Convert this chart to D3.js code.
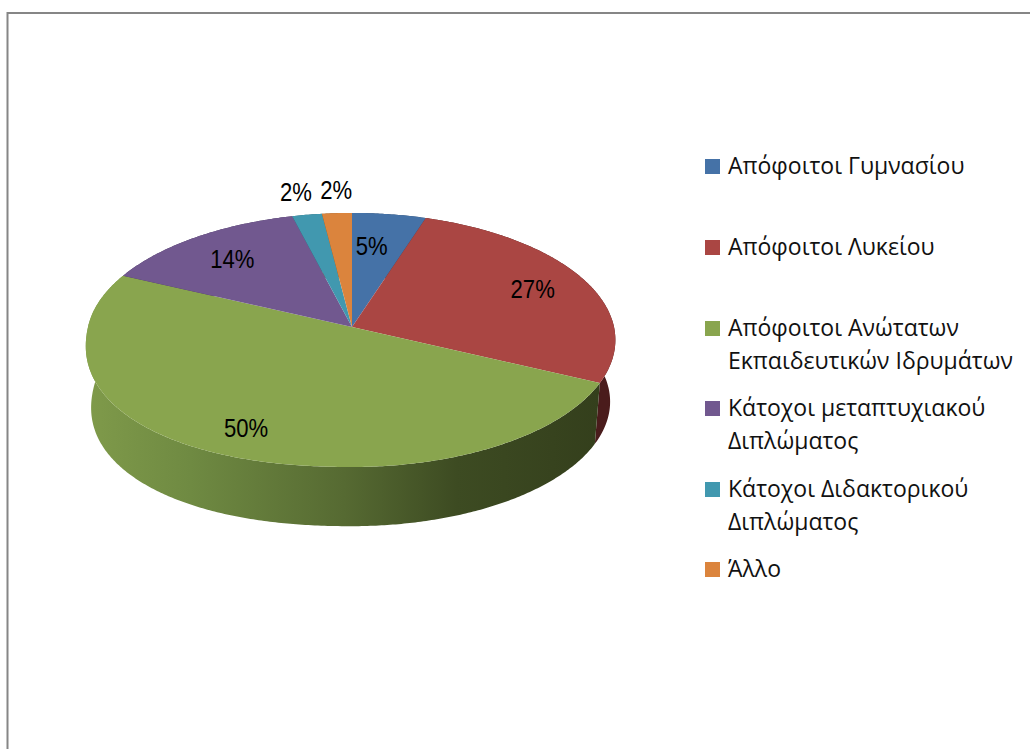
<!DOCTYPE html>
<html lang="el">
<head>
<meta charset="utf-8">
<title>Pie</title>
<style>
  html, body { margin: 0; padding: 0; background: #fff; }
  svg { display: block; }
  .legend text { font-family: "Open Sans", sans-serif; font-size: 23px; fill: #111; }
  .lbl { font-family: "Liberation Sans", sans-serif; font-size: 26px; fill: #000; text-anchor: middle; }
</style>
<script src="https://d3js.org/d3.v7.min.js"></script>
</head>
<body>
<div id="chart"></div>
<script>
// data
var categories = [
  ["Απόφοιτοι Γυμνασίου"],
  ["Απόφοιτοι Λυκείου"],
  ["Απόφοιτοι Ανώτατων", "Εκπαιδευτικών Ιδρυμάτων"],
  ["Κάτοχοι μεταπτυχιακού", "Διπλώματος"],
  ["Κάτοχοι Διδακτορικού", "Διπλώματος"],
  ["Άλλο"]
];
var values = [5, 27, 50, 14, 2, 2];
var colors = ["#4572a7", "#aa4643", "#89a54e", "#71588f", "#4198af", "#db843d"];
var sideColors = ["#2a4464", "#4a1c1c", "url(#greenSide)", "#44355a", "#275c6a", "#83501f"];

// label placement
var labelR = [0.7, 0.7, 0.7, 0.7, 1.2, 1.2];
var labelDx = [-7, 17, -15, -8, -3, 2];
var labelDy = [0, -4, 15, -4, -3, -3];
var legendY = [166, 247, 328, 408, 489, 569];

var width = 1030, height = 749;

// tilted disc with a little perspective, a = clockwise angle from the back
var apexX = 352, apexY = 327, radXLeft = 264, radXRight = 262, radY = 125.7, persp = 0.102;
var depth = 62, shrink = 0.98;
var frontLeftPow = 0.909; // front left quadrant is a bit fuller than an ellipse

function project(a, r, bottom) {
  var u = Math.sin(a), v = -Math.cos(a);
  if (u < 0 && v > 0) {
    u = -Math.pow(-u, frontLeftPow);
    v = Math.pow(v, frontLeftPow);
  }
  u *= r;
  v *= r;
  var w = 1 - persp * v;
  var s = bottom ? shrink : 1;
  var radX = u < 0 ? radXLeft : radXRight;
  return [apexX + s * radX * u / w, apexY + (bottom ? depth : 0) + s * radY * v / w];
}

function arcPoints(a0, a1, bottom) {
  var n = Math.max(2, Math.ceil((a1 - a0) / 0.01));
  return d3.range(n + 1).map(function(i) {
    return project(a0 + (a1 - a0) * i / n, 1, bottom);
  });
}

var svg = d3.select("#chart").append("svg")
  .attr("width", width)
  .attr("height", height);

var defs = svg.append("defs");
var grad = defs.append("linearGradient")
  .attr("id", "greenSide")
  .attr("gradientUnits", "userSpaceOnUse")
  .attr("x1", 88).attr("y1", 0).attr("x2", 600).attr("y2", 0);
grad.selectAll("stop")
  .data([[0, "#7f9a4a"], [0.2, "#6f8a42"], [0.5, "#566a32"], [0.72, "#3d4b22"], [1, "#343f1c"]])
  .enter().append("stop")
  .attr("offset", function(d) { return d[0]; })
  .attr("stop-color", function(d) { return d[1]; });

// chart frame, only top and left reach into the picture
svg.append("path")
  .attr("d", "M7.5," + height + "V13H" + width)
  .attr("fill", "none")
  .attr("stroke", "#868686")
  .attr("stroke-width", 2);

var pie = d3.pie().sort(null).value(function(d) { return d; });
var slices = pie(values);
var line = d3.line();

// side wall first, the top covers what should not show
svg.append("g").selectAll("path")
  .data(slices)
  .enter().append("path")
  .attr("d", function(d) {
    return line(arcPoints(d.startAngle, d.endAngle, false)
      .concat(arcPoints(d.startAngle, d.endAngle, true).reverse())) + "Z";
  })
  .attr("fill", function(d, i) { return sideColors[i]; });

svg.append("g").selectAll("path")
  .data(slices)
  .enter().append("path")
  .attr("d", function(d) {
    return line([[apexX, apexY]].concat(arcPoints(d.startAngle, d.endAngle, false))) + "Z";
  })
  .attr("fill", function(d, i) { return colors[i]; });

// data labels are narrow in the original, squeeze them a bit
svg.append("g").selectAll("text")
  .data(slices)
  .enter().append("text")
  .attr("class", "lbl")
  .attr("transform", function(d, i) {
    var p = project((d.startAngle + d.endAngle) / 2, labelR[i]);
    return "translate(" + (p[0] + labelDx[i]) + "," + (p[1] + labelDy[i] + 9) + ") scale(0.85,1)";
  })
  .text(function(d) { return d.value + "%"; });

var legend = svg.append("g").attr("class", "legend")
  .selectAll("g")
  .data(categories)
  .enter().append("g")
  .attr("transform", function(d, i) { return "translate(705," + legendY[i] + ")"; });

legend.append("rect")
  .attr("y", -7)
  .attr("width", 15)
  .attr("height", 15)
  .attr("fill", function(d, i) { return colors[i]; });

legend.selectAll("text")
  .data(function(d) { return d; })
  .enter().append("text")
  .attr("x", 23)
  .attr("y", function(d, i) { return 8 + i * 33; })
  .text(function(d) { return d; });
</script>
</body>
</html>
